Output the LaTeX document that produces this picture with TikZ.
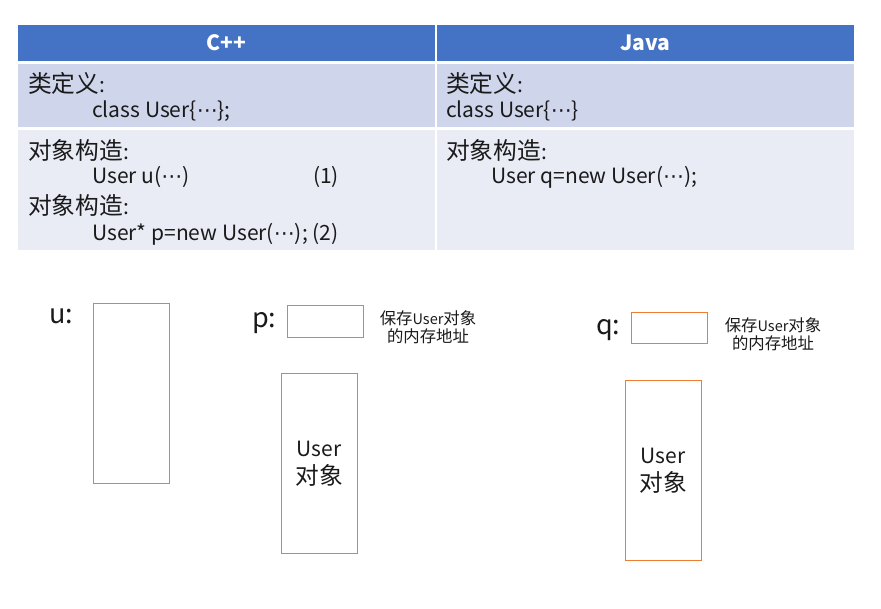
\documentclass[tikz,border=0pt]{standalone}
\usepackage{fontspec}
\setmainfont{Noto Sans CJK SC}
\newfontfamily\zhfont[Scale=1.13]{Noto Sans CJK SC}
\newfontfamily\dvfont{DejaVu Sans}
\newcommand{\zh}[1]{{\zhfont #1}}
\newcommand{\dts}{{\dvfont ⋯}}
\definecolor{hdr}{HTML}{4472C4}
\definecolor{rowA}{HTML}{CFD5EA}
\definecolor{rowB}{HTML}{E9EBF5}
\definecolor{org}{HTML}{ED7D31}
\definecolor{txt}{HTML}{1A1A1A}
\begin{document}
\begin{tikzpicture}[x=1pt,y=-1pt,
  cell/.style={anchor=north west,inner sep=0pt,outer sep=0pt,draw=none},
  hd/.style={text=white,font=\bfseries\fontsize{21}{24}\selectfont},
  tx/.style={anchor=west,inner sep=0pt,text=txt,font=\fontsize{21}{24}\selectfont},
  mem/.style={draw=org,line width=1pt,anchor=north west,inner sep=0pt},
  lbl/.style={anchor=west,inner sep=0pt,text=txt,font=\fontsize{27}{30}\selectfont},
  note/.style={align=center,inner sep=0pt,text=txt,font=\fontsize{14.5}{18}\selectfont},
  obj/.style={align=center,inner sep=0pt,text=txt,font=\fontsize{21}{28}\selectfont}]
\useasboundingbox (0,0) rectangle (881,608);
% table cells
\node[cell,fill=hdr,minimum width=417,minimum height=36] (h1) at (18,25) {};
\node[cell,fill=hdr,minimum width=417,minimum height=36] (h2) at (437,25) {};
\node[cell,fill=rowA,minimum width=417,minimum height=63] (a1) at (18,64) {};
\node[cell,fill=rowA,minimum width=417,minimum height=63] (a2) at (437,64) {};
\node[cell,fill=rowB,minimum width=417,minimum height=120] (b1) at (18,130) {};
\node[cell,fill=rowB,minimum width=417,minimum height=120] (b2) at (437,130) {};
\node[hd] (hc) at (h1.center) {C++};
\node[hd] (hj) at (h2.center) {Java};
% C++ texts
\node[tx] (t1) at (28,83) {\zh{类定义}:};
\node[tx] (t2) at (92,111) {class User\{\dts\};};
\node[tx] (t3) at (28,150) {\zh{对象构造}:};
\node[tx] (t4) at (92,177) {User u(\dts)};
\node[tx] (t5) at (313,177) {(1)};
\node[tx] (t6) at (28,205) {\zh{对象构造}:};
\node[tx] (t7) at (92,234) {User* p=new User(\dts); (2)};
% Java texts
\node[tx] (j1) at (446,83) {\zh{类定义}:};
\node[tx] (j2) at (446,111) {class User\{\dts\}};
\node[tx] (j3) at (446,150) {\zh{对象构造}:};
\node[tx] (j4) at (491,177) {User q=new User(\dts);};
% memory diagram
\node[lbl] (lu) at (49,316) {u:};
\node[mem,minimum width=76,minimum height=180] (ubox) at (93,303) {};
\node[lbl] (lp) at (252,323) {p:};
\node[mem,minimum width=76,minimum height=32] (pbox) at (287,305) {};
\node[note] (np) at (428,327) {\zh{保存}User\zh{对象}\\\zh{的内存地址}};
\node[mem,minimum width=76,minimum height=180] (pobj) at (281,373) {};
\node[obj] (tp) at (319,464) {User\\\zh{对象}};
\node[lbl] (lq) at (596,330) {q:};
\node[mem,minimum width=76,minimum height=31] (qbox) at (631,312) {};
\node[note] (nq) at (773,334) {\zh{保存}User\zh{对象}\\\zh{的内存地址}};
\node[mem,minimum width=76,minimum height=180] (qobj) at (625,380) {};
\node[obj] (tq) at (663,471) {User\\\zh{对象}};
\end{tikzpicture}
\end{document}
